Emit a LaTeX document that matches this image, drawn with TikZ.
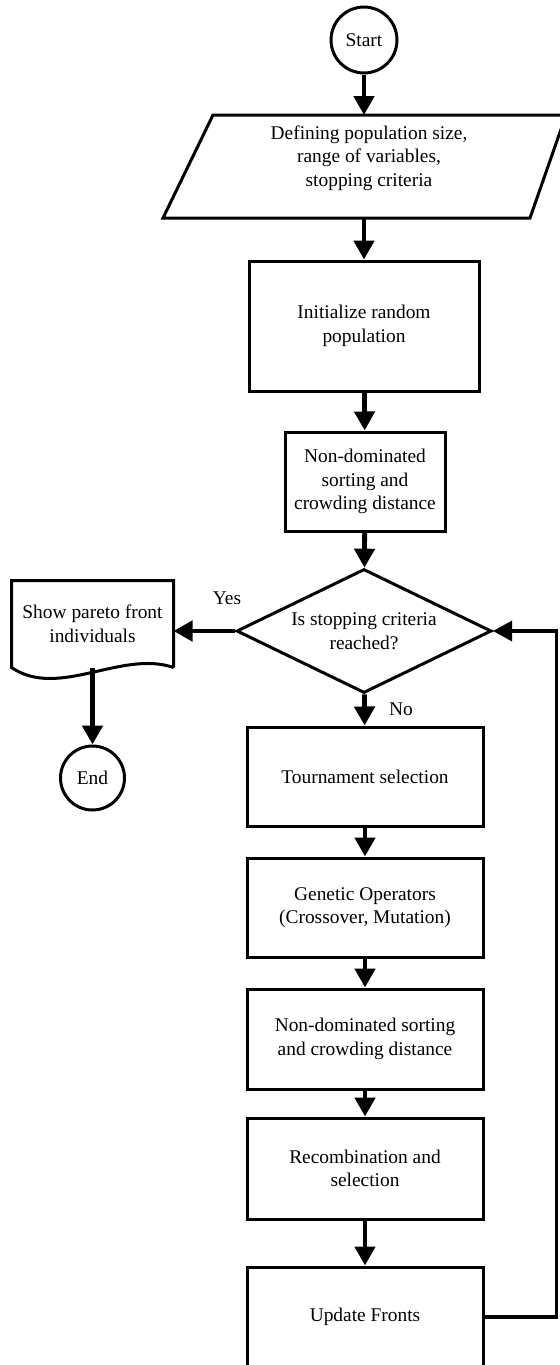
\documentclass[tikz,border=0pt]{standalone}
\usepackage{fontspec}
\setmainfont{Liberation Serif}
\usepackage{tikz}
\usetikzlibrary{arrows.meta, shapes.geometric}

\tikzset{
    flowfont/.style={font=\fontsize{9.7}{11.8}\selectfont},
    process/.style={rectangle, draw, line width=1.5pt, align=center, flowfont, inner sep=0pt, minimum width=118pt, minimum height=50pt},
    terminal/.style={circle, draw, line width=1.5pt, flowfont, inner sep=0pt, minimum size=33pt},
    decision/.style={diamond, draw, line width=1.5pt, align=center, flowfont, aspect=2, inner sep=0pt, minimum width=127.5pt, minimum height=62pt},
    flowarrow/.style={line width=2.4pt, -{Triangle[width=10pt, length=9.5pt]}},
    looparrow/.style={line width=1.6pt, -{Triangle[width=10pt, length=9.5pt]}},
}

\begin{document}
\begin{tikzpicture}[x=0.5pt, y=-0.5pt]
        \useasboundingbox (0.0, 0.0) rectangle (559.0, 1365.0); % page

        \node [terminal] (start) at (364.0, 40.0) {Start};
        \draw [line width=1.5pt] (213.0, 115.0) -- (566.0, 115.0) -- (530.0, 218.0) -- (163.0, 218.0) -- cycle; % input box
        \coordinate (define top) at (364.0, 115.0);
        \coordinate (define bottom) at (364.0, 218.0);
        \node [flowfont, align=center, inner sep=0pt] (define) at (369.0, 158.0) {Defining population size,\\range of variables,\\stopping criteria};
        \node [process, minimum width=115pt, minimum height=65pt] (init) at (364.0, 326.0) {Initialize random\\population};
        \node [process, minimum width=80pt, minimum height=49.5pt] (sort1) at (365.0, 481.5) {Non-dominated\\sorting and\\crowding distance};
        \node [decision] (check) at (364.0, 631.0) {Is stopping criteria\\reached?};

        % left branch
        \node [process, draw=none, minimum width=79.5pt, minimum height=42pt] (show) at (92.5, 624.0) {Show pareto front\\individuals};
        \draw [line width=1.5pt] (show.south east) -- (show.north east) -- (show.north west) -- (show.south west)
            .. controls +(47.0, 32.0) and +(-52.0, -18.0) .. (show.south east); % document shape
        \node [terminal, minimum size=32pt] (end) at (92.5, 778.0) {End};

        % loop body
        \node [process, minimum height=49.5pt] (tour) at (365.0, 776.5) {Tournament selection};
        \node [process, minimum height=49.5pt] (gen) at (365.0, 907.5) {Genetic Operators\\(Crossover, Mutation)};
        \node [process] (sort2) at (365.0, 1039.0) {Non-dominated sorting\\and crowding distance};
        \node [process, minimum height=50.5pt] (recomb) at (365.0, 1168.5) {Recombination and\\selection};
        \node [process] (update) at (365.0, 1317.0) {Update Fronts};

        \node [flowfont] (yes) at (227.0, 598.0) {Yes};
        \node [flowfont] (no) at (401.0, 709.0) {No};

        \draw [flowarrow] (start) -- (define top);
        \draw [flowarrow] (define bottom) -- (init);
        \draw [flowarrow] (init) -- (sort1);
        \draw [flowarrow] (sort1) -- (check);
        \draw [flowarrow] (check.west) -- (show.east |- check.west); % yes
        \draw [flowarrow] (show.south) -- (end);
        \draw [flowarrow] (check) -- (tour); % no
        \draw [flowarrow] (tour) -- (gen);
        \draw [flowarrow] (gen) -- (sort2);
        \draw [flowarrow] (sort2) -- (recomb);
        \draw [flowarrow] (recomb) -- (update);
        \draw [looparrow] (update.east) -- ++(72.0, 0.0) |- (check.east); % back to the check
    \end{tikzpicture}
\end{document}
